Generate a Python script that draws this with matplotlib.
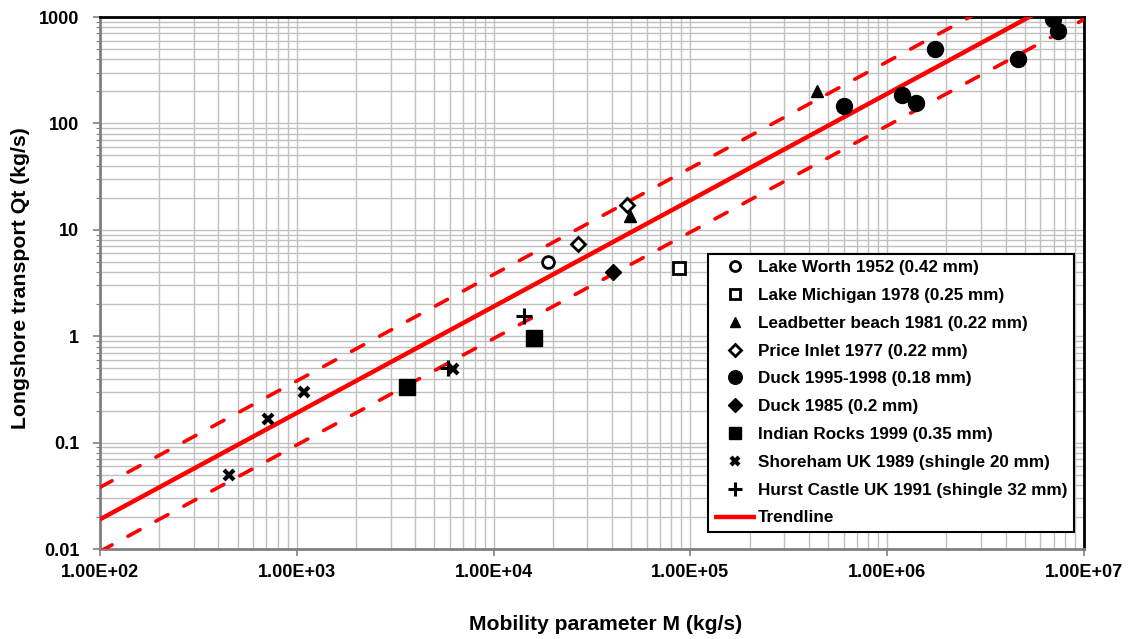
import matplotlib
matplotlib.use("Agg")
import matplotlib.pyplot as plt
import numpy as np
from matplotlib.ticker import LogLocator, FixedLocator, FuncFormatter, NullFormatter

plt.rcParams['font.family'] = ['Liberation Sans', 'DejaVu Sans']
plt.rcParams['font.weight'] = 'bold'

# data (M in kg/s, Qt in kg/s)
lake_worth_M = [19000]
lake_worth_Q = [5.0]
lake_michigan_M = [88000]
lake_michigan_Q = [4.4]
leadbetter_M = [49500, 438000]
leadbetter_Q = [13.5, 200]
price_inlet_M = [26700, 47500]
price_inlet_Q = [7.4, 17.0]
duck9598_M = [601000, 1.19e6, 1.40e6, 1.75e6, 4.6e6, 6.95e6, 7.35e6]
duck9598_Q = [145, 185, 155, 500, 400, 950, 740]
duck85_M = [40600]
duck85_Q = [4.05]
indian_rocks_M = [3650, 16100]
indian_rocks_Q = [0.33, 0.97]
shoreham_M = [450, 715, 1090, 6250]
shoreham_Q = [0.05, 0.168, 0.30, 0.495]
hurst_M = [5850, 14200]
hurst_Q = [0.5, 1.55]

# trendline end points and the +/- band
trend_M = [1e2, 1e7]
trend_Q = [0.019, 1900]
upper_Q = [0.038, 3800]
lower_Q = [0.0095, 950]

x_ticks = [1e2, 1e3, 1e4, 1e5, 1e6, 1e7]
x_labels = ["1.00E+02", "1.00E+03", "1.00E+04", "1.00E+05", "1.00E+06", "1.00E+07"]
y_ticks = [0.01, 0.1, 1, 10, 100, 1000]
y_labels = ["0.01", "0.1", "1", "10", "100", "1000"]

fig = plt.figure(figsize=(11.34, 6.39), dpi=100)
ax = fig.add_axes([100 / 1134, 90 / 639, 984 / 1134, 532 / 639])
ax.set_xscale('log')
ax.set_yscale('log')
ax.set_xlim(1e2, 1e7)
ax.set_ylim(0.01, 1000)

red = '#ff0000'
ax.plot(trend_M, trend_Q, color=red, lw=3.2, solid_capstyle='butt', zorder=3, label='Trendline')
for band in (upper_Q, lower_Q):
    ax.plot(trend_M, band, color=red, lw=2.6, dashes=(3.8, 5.0), dash_capstyle='round', zorder=3)

k = dict(linestyle='none', zorder=5)
ax.plot(lake_worth_M, lake_worth_Q, marker='o', ms=8.5, mfc='white', mec='black', mew=2, label='Lake Worth 1952 (0.42 mm)', **k)
ax.plot(lake_michigan_M, lake_michigan_Q, marker='s', ms=8, mfc='white', mec='black', mew=2, label='Lake Michigan 1978 (0.25 mm)', **k)
ax.plot(leadbetter_M, leadbetter_Q, marker='^', ms=9, color='black', label='Leadbetter beach 1981 (0.22 mm)', **k)
ax.plot(price_inlet_M, price_inlet_Q, marker='D', ms=7, mfc='white', mec='black', mew=2, label='Price Inlet 1977 (0.22 mm)', **k)
ax.plot(duck9598_M, duck9598_Q, marker='o', ms=11.5, color='black', label='Duck 1995-1998 (0.18 mm)', **k)
ax.plot(duck85_M, duck85_Q, marker='D', ms=8, color='black', label='Duck 1985 (0.2 mm)', **k)
ax.plot(indian_rocks_M, indian_rocks_Q, marker='s', ms=11, color='black', label='Indian Rocks 1999 (0.35 mm)', **k)
ax.plot(shoreham_M, shoreham_Q, marker='x', ms=7.5, color='black', mew=3, label='Shoreham UK 1989 (shingle 20 mm)', **k)
ax.plot(hurst_M, hurst_Q, marker='+', ms=12, color='black', mew=2.2, label='Hurst Castle UK 1991 (shingle 32 mm)', **k)

# grid and ticks
for axis in (ax.xaxis, ax.yaxis):
    axis.set_minor_locator(LogLocator(base=10, subs=np.arange(2, 10), numticks=100))
    axis.set_minor_formatter(NullFormatter())
ax.xaxis.set_major_locator(FixedLocator(x_ticks))
ax.yaxis.set_major_locator(FixedLocator(y_ticks))
ax.xaxis.set_major_formatter(FuncFormatter(lambda v, p: x_labels[x_ticks.index(v)] if v in x_ticks else ''))
ax.yaxis.set_major_formatter(FuncFormatter(lambda v, p: y_labels[y_ticks.index(v)] if v in y_ticks else ''))
ax.grid(True, which='both', color='#c0c0c0', lw=1.0, zorder=0)
ax.set_axisbelow(True)
ax.tick_params(axis='x', which='major', direction='out', length=5, width=1.2, color='#808080', pad=6, labelsize=13)
ax.tick_params(axis='y', which='major', direction='out', length=5, width=1.2, color='#808080', pad=10, labelsize=13)
ax.tick_params(axis='x', which='minor', length=0)
ax.tick_params(axis='y', which='minor', direction='out', length=3, width=0.8, color='#808080')

for s in ('left', 'bottom'):
    ax.spines[s].set_color('#808080')
    ax.spines[s].set_linewidth(2)
for s in ('top', 'right'):
    ax.spines[s].set_color('black')
    ax.spines[s].set_linewidth(2)

ax.set_xlabel('Mobility parameter M (kg/s)', fontsize=15.2, fontweight='bold')
ax.set_ylabel('Longshore transport Qt (kg/s)', fontsize=15.3, fontweight='bold')
ax.xaxis.set_label_coords(0.514, -0.125)
ax.yaxis.set_label_coords(-0.071, 0.51)

handles, labels = ax.get_legend_handles_labels()
order = labels[1:] + labels[:1]
hmap = dict(zip(labels, handles))
leg = ax.legend([hmap[l] for l in order], order, loc='lower right', bbox_to_anchor=(0.99, 0.032),
                borderaxespad=0, fontsize=12.3, frameon=True, fancybox=False, edgecolor='black',
                framealpha=1, markerscale=0.85, handlelength=2.45, handletextpad=0.12,
                labelspacing=0.75, borderpad=0.38)
leg.get_frame().set_linewidth(1.5)

fig.savefig('out.png', dpi=100)
